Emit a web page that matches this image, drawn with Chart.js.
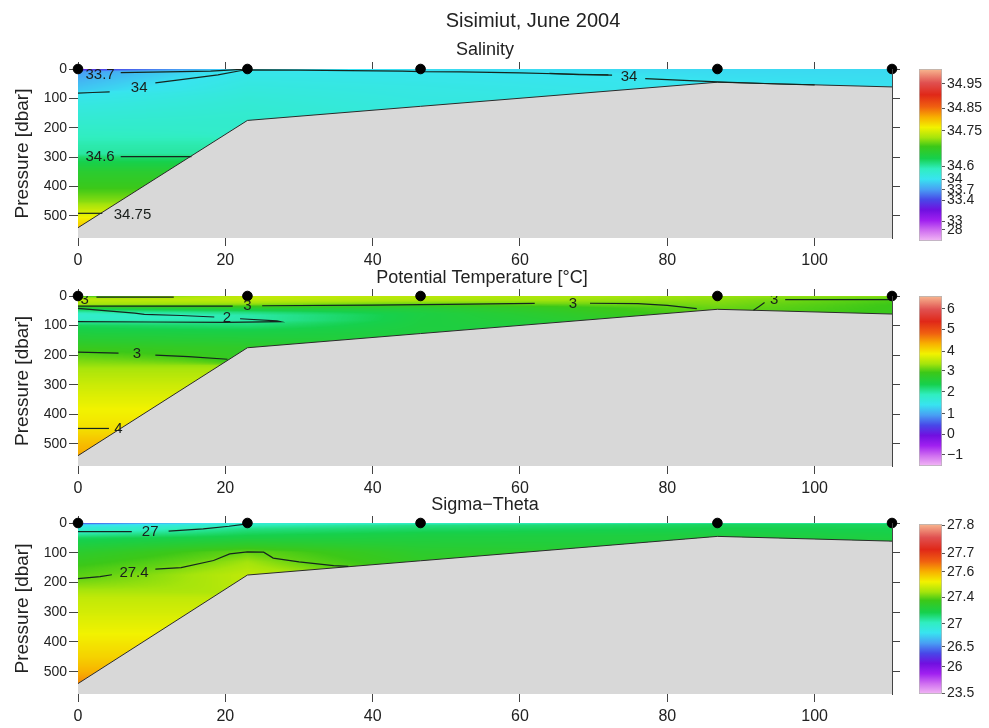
<!DOCTYPE html>
<html>
<head>
<meta charset="utf-8">
<title>Sisimiut, June 2004</title>
<script src="https://cdn.jsdelivr.net/npm/chart.js@4.4.1/dist/chart.umd.min.js"></script>
<style>
  html, body { margin: 0; padding: 0; background: #fff; }
  body { width: 989px; height: 728px; position: relative; overflow: hidden; }
  canvas { position: absolute; }
</style>
</head>
<body>
<canvas id="salSection"></canvas>
<canvas id="tempSection"></canvas>
<canvas id="sigSection"></canvas>
<canvas id="salBar"></canvas>
<canvas id="tempBar"></canvas>
<canvas id="sigBar"></canvas>
<script>
const FONT = '"Liberation Sans", Arial, Helvetica, sans-serif';
const INK = '#222';

// ---- Section geometry -------------------------------------------------------
// CTD stations along the section (km) and water depth at each station (dbar)
const STATION_KM  = [0, 23, 46.5, 86.8, 110.5];
const BOTTOM_DBAR = [540, 175, 127, 45, 61];
const DISTANCE_TICKS = [0, 20, 40, 60, 80, 100];
const PRESSURE_TICKS = [0, 100, 200, 300, 400, 500];
const X_MAX = 110.5;
const P_MAX = 575;

// ---- Profiles: [pressure dbar, value] for each station ----------------------
const SALINITY = [
  [[0,33.2],[4,33.4],[8,33.68],[15,33.72],[40,33.8],[70,33.88],[83,34.0],[120,34.15],[200,34.38],[260,34.55],[300,34.62],[350,34.66],[400,34.68],[450,34.71],[490,34.75],[540,34.8]],
  [[0,33.97],[5,34.05],[50,34.15],[100,34.25],[175,34.35]],
  [[0,33.96],[10,33.99],[15,34.04],[60,34.12],[127,34.18]],
  [[0,33.95],[44,34.0]],
  [[0,33.95],[61,33.99]]
];
const TEMPERATURE = [
  [[0,2.95],[3,3.0],[6,3.35],[15,3.5],[28,3.35],[35,3.0],[40,2.6],[48,2.2],[55,1.95],[65,1.75],[78,1.8],[87,2.0],[100,2.3],[150,2.65],[193,3.0],[250,3.4],[300,3.6],[380,3.85],[448,4.0],[500,4.25],[540,4.4]],
  [[0,3.55],[15,3.5],[28,3.25],[33,3.0],[42,2.6],[55,2.15],[65,1.95],[82,1.95],[92,2.1],[120,2.4],[175,2.75]],
  [[0,3.5],[15,3.4],[25,3.15],[30,2.95],[40,2.6],[60,2.45],[127,2.5]],
  [[0,3.3],[44,3.1]],
  [[0,3.25],[12,3.0],[30,2.92],[61,2.88]]
];
const SIGMA_THETA = [
  [[0,26.0],[2,26.5],[6,26.75],[15,26.9],[29,27.0],[50,27.15],[100,27.28],[150,27.36],[187,27.4],[250,27.47],[350,27.51],[450,27.56],[540,27.63]],
  [[0,26.9],[4,27.0],[20,27.1],[50,27.2],[80,27.32],[97,27.4],[130,27.44],[175,27.47]],
  [[0,27.0],[8,27.1],[40,27.2],[100,27.28],[127,27.3]],
  [[0,27.05],[5,27.15],[44,27.22]],
  [[0,27.05],[5,27.15],[61,27.22]]
];

// ---- Contour lines: segments of [km, dbar]; labels: [text, km, dbar] ------
const SAL_CONTOURS = [
  [[0,82],[2,80],[4.3,78]],
  [[10.5,47],[14,36],[19,20],[22,6],[23,3],[30,4],[44,7],[46.5,9],[52,10],[60,13],[66,17],[72,20]],
  [[64,15],[68,19],[72.5,21]],
  [[77,33],[80,36],[86.8,44],[95,51],[100,54]],
  [[5.8,12],[12,10],[18,7],[21,3],[22.5,0.5]],
  [[5.8,298],[15.4,298]],
  [[0,491],[3.3,491]]
];
const SAL_LABELS = [['33.7',3,20],['34',8.3,63],['34',74.8,28],['34.6',3,298],['34.75',7.4,496]];

const TEMP_CONTOURS = [
  [[2.5,4],[13,4]],
  [[0,34],[21,34]],
  [[25,33],[40,31],[50,28],[62,25]],
  [[69.5,24.5],[76,26],[80,32],[84,43]],
  [[91.7,48],[92.5,35],[93.2,22]],
  [[96,12],[110.5,12]],
  [[0,42],[4,50],[7.7,58],[9,62],[14,66],[18.5,71]],
  [[22,77],[27,84],[27.5,87],[20,89],[10,88],[0,87]],
  [[0,190],[5.5,193]],
  [[10.5,200],[15,205],[20.3,214]],
  [[0,448],[4.2,448]]
];
const TEMP_LABELS = [['3',0.9,12],['3',23,34],['3',67.2,25],['3',94.5,13],['2',20.2,75],['3',8,196],['4',5.5,451]];

const SIGMA_CONTOURS = [
  [[0,29],[7.3,29]],
  [[12.3,27],[17,20],[20.5,11],[23,3]],
  [[0,187],[3,180],[4.6,174]],
  [[10.5,155],[14,150],[18.4,126],[20.6,104],[23,97],[25.2,98],[26.5,118],[30,131],[34.7,143],[36.7,146]]
];
const SIGMA_LABELS = [['27',9.8,30],['27.4',7.6,167]];

// ---- Colour bars: tick labels, values and their place along the bar (0..1) --
const SAL_CB_LABELS  = ['28','33','33.4','33.7','34','34.6','34.75','34.85','34.95'];
const SAL_CB_VALUES  = [28, 33, 33.4, 33.7, 34, 34.6, 34.75, 34.85, 34.95];
const SAL_CB_POS     = [0.064, 0.116, 0.238, 0.297, 0.36, 0.436, 0.64, 0.77, 0.913];
const TEMP_CB_LABELS = ['\u22121','0','1','2','3','4','5','6'];
const TEMP_CB_VALUES = [-1, 0, 1, 2, 3, 4, 5, 6];
const TEMP_CB_POS    = [0.065, 0.188, 0.306, 0.437, 0.559, 0.676, 0.804, 0.924];
const SIG_CB_LABELS  = ['23.5','26','26.5','27','27.4','27.6','27.7','27.8'];
const SIG_CB_VALUES  = [23.5, 26, 26.5, 27, 27.4, 27.6, 27.7, 27.8];
const SIG_CB_POS     = [0.004, 0.16, 0.278, 0.412, 0.569, 0.719, 0.827, 0.994];

// Rainbow palette shared by the sections and their colour bars
const CMAP_POS = [0, 0.06, 0.12, 0.18, 0.24, 0.30, 0.36, 0.42, 0.48, 0.55, 0.60, 0.66, 0.72, 0.78, 0.85, 0.92, 1];
const CMAP_HEX = ['#f2b8f4','#d070f0','#a020f0','#7010e0','#4848e8','#48a0f4','#38e4f0','#30eec0','#16d04c',
                  '#3cc818','#a4e40c','#f2f200','#f8b000','#f06010','#e02818','#e05050','#f8b890'];

Chart.defaults.font.family = FONT;
Chart.defaults.color = INK;

// ---- helpers ----------------------------------------------------------------
function interp1(xs, ys, x) {
  const n = xs.length;
  if (x <= xs[0]) return ys[0];
  if (x >= xs[n - 1]) return ys[n - 1];
  let i = 1;
  while (xs[i] < x) i++;
  const t = (x - xs[i - 1]) / (xs[i] - xs[i - 1]);
  return ys[i - 1] + t * (ys[i] - ys[i - 1]);
}
function valueToFrac(v, vals, pos) {
  const n = vals.length;
  let i;
  if (v <= vals[0]) i = 1;
  else if (v >= vals[n - 1]) i = n - 1;
  else { i = 1; while (vals[i] < v) i++; }
  const f = pos[i - 1] + (v - vals[i - 1]) * (pos[i] - pos[i - 1]) / (vals[i] - vals[i - 1]);
  return Math.max(0, Math.min(1, f));
}
const CMAP_RGB = CMAP_HEX.map(h => [parseInt(h.slice(1,3),16), parseInt(h.slice(3,5),16), parseInt(h.slice(5,7),16)]);
const LUT = [];
for (let i = 0; i <= 1023; i++) {
  const f = i / 1023;
  let k = 1;
  while (k < CMAP_POS.length - 1 && CMAP_POS[k] < f) k++;
  const t = (f - CMAP_POS[k - 1]) / (CMAP_POS[k] - CMAP_POS[k - 1]);
  const a = CMAP_RGB[k - 1], b = CMAP_RGB[k];
  LUT.push([0,1,2].map(c => Math.round(a[c] + t * (b[c] - a[c]))));
}
const colourAt = f => LUT[Math.round(f * 1023)];

// A station's influence fades out below its own sea-floor depth
const reach = (p, bottom) => p <= bottom ? 1 : Math.max(0, 1 - (p - bottom) / 60);

// Paints the gridded field between the stations, above the sea floor
function fieldPlugin(profiles, cbVals, cbPos) {
  const prof = profiles.map(pr => ({ p: pr.map(d => d[0]), v: pr.map(d => d[1]) }));
  return {
    id: 'sectionField',
    beforeDatasetsDraw(chart) {
      const { ctx, chartArea: a, scales } = chart;
      const xs = scales.x, ys = scales.y;
      const w = Math.round(a.right - a.left), h = Math.round(a.bottom - a.top);
      const off = document.createElement('canvas');
      off.width = w; off.height = h;
      const octx = off.getContext('2d');
      const img = octx.createImageData(w, h);
      const d = img.data;
      const rows = [];
      for (let j = 0; j < h; j++) rows.push(ys.getValueForPixel(a.top + j + 0.5));
      for (let i = 0; i < w; i++) {
        const km = xs.getValueForPixel(a.left + i + 0.5);
        const floor = interp1(STATION_KM, BOTTOM_DBAR, km);
        let k = 0;
        while (k < STATION_KM.length - 2 && km > STATION_KM[k + 1]) k++;
        const t = Math.max(0, Math.min(1, (km - STATION_KM[k]) / (STATION_KM[k + 1] - STATION_KM[k])));
        const A = prof[k], B = prof[k + 1];
        const bA = BOTTOM_DBAR[k], bB = BOTTOM_DBAR[k + 1];
        for (let j = 0; j < h; j++) {
          const p = rows[j];
          if (p > floor + 1.5) break;
          let wA = (1 - t) * reach(p, bA), wB = t * reach(p, bB);
          if (wA + wB === 0) { if (bA >= bB) wA = 1; else wB = 1; }
          const v = (wA * interp1(A.p, A.v, p) + wB * interp1(B.p, B.v, p)) / (wA + wB);
          const c = colourAt(valueToFrac(v, cbVals, cbPos));
          const o = (j * w + i) * 4;
          d[o] = c[0]; d[o + 1] = c[1]; d[o + 2] = c[2]; d[o + 3] = 255;
        }
      }
      octx.putImageData(img, 0, 0);
      ctx.drawImage(off, a.left, a.top);
    }
  };
}

// Contour labels placed in data coordinates
function labelPlugin(labels) {
  return {
    id: 'contourLabels',
    afterDatasetsDraw(chart) {
      const { ctx, chartArea: a, scales } = chart;
      ctx.save();
      ctx.beginPath();
      ctx.rect(a.left, a.top, a.right - a.left, a.bottom - a.top);
      ctx.clip();
      ctx.font = '15px ' + FONT;
      ctx.fillStyle = '#1a1f1c';
      ctx.textAlign = 'center';
      ctx.textBaseline = 'middle';
      labels.forEach(([txt, km, p]) => {
        ctx.fillText(txt, scales.x.getPixelForValue(km), scales.y.getPixelForValue(p));
      });
      ctx.restore();
    }
  };
}

// Panel headings
function headingPlugin(items, top) {
  return {
    id: 'headings',
    afterDraw(chart) {
      const ctx = chart.ctx;
      ctx.save();
      ctx.fillStyle = INK;
      ctx.textAlign = 'center';
      ctx.textBaseline = 'middle';
      items.forEach(it => {
        ctx.font = it.size + 'px ' + FONT;
        ctx.fillText(it.text, it.x, it.y - top);
      });
      ctx.restore();
    }
  };
}

const setTicks = list => s => { s.ticks = list.map(v => ({ value: v })); };

function sectionChart(id, cfg) {
  const canvas = document.getElementById(id);
  canvas.width = 970; canvas.height = cfg.height;
  canvas.style.left = '0px'; canvas.style.top = cfg.top + 'px';
  const areaBottom = cfg.areaBottom - cfg.top;
  const xAxisH = cfg.height - areaBottom;

  const datasets = [];
  datasets.push({
    type: 'line',
    data: STATION_KM.map((k, i) => ({ x: k, y: BOTTOM_DBAR[i] })),
    fill: { value: P_MAX },
    backgroundColor: '#d8d8d8',
    borderColor: '#2b2b2b',
    borderWidth: 1,
    pointRadius: 0,
    tension: 0,
    order: 3
  });
  cfg.contours.forEach(seg => datasets.push({
    type: 'line',
    data: seg.map(([k, p]) => ({ x: k, y: p })),
    borderColor: '#15261f',
    borderWidth: 1.2,
    pointRadius: 0,
    fill: false,
    tension: 0,
    order: 2
  }));
  datasets.push({
    type: 'scatter',
    data: STATION_KM.map(k => ({ x: k, y: 0 })),
    pointRadius: 4.8,
    pointBackgroundColor: '#000',
    pointBorderColor: '#000',
    clip: false,
    order: 1
  });

  const tickGrid = len => ({ drawOnChartArea: false, drawTicks: true, tickLength: len, color: '#444', lineWidth: 1 });

  return new Chart(canvas, {
    type: 'scatter',
    data: { datasets },
    options: {
      responsive: false,
      animation: false,
      events: [],
      layout: { padding: { left: 0, right: 970 - 892 - 10, top: cfg.areaTop - cfg.top - 7, bottom: 0 } },
      plugins: { legend: { display: false }, tooltip: { enabled: false } },
      scales: {
        x: {
          type: 'linear', position: 'bottom', min: 0, max: X_MAX,
          afterBuildTicks: setTicks(DISTANCE_TICKS),
          afterFit: s => { s.height = xAxisH; },
          ticks: { font: { size: 16 }, color: INK, padding: 5, maxRotation: 0, autoSkip: false },
          grid: tickGrid(8),
          border: { display: false }
        },
        x2: {
          type: 'linear', position: 'top', min: 0, max: X_MAX,
          afterBuildTicks: setTicks(DISTANCE_TICKS),
          afterFit: s => { s.height = 7; },
          ticks: { display: false },
          grid: tickGrid(7),
          border: { display: false }
        },
        y: {
          type: 'linear', position: 'left', reverse: true, min: 0, max: P_MAX,
          afterBuildTicks: setTicks(PRESSURE_TICKS),
          afterFit: s => { s.width = 78; },
          ticks: { font: { size: 14 }, color: INK, padding: 2, autoSkip: false },
          grid: tickGrid(9),
          border: { display: true, color: '#444' },
          title: { display: true, text: 'Pressure [dbar]', font: { size: 19 }, color: INK, padding: { top: 11, bottom: 0 } }
        },
        y2: {
          type: 'linear', position: 'right', reverse: true, min: 0, max: P_MAX,
          afterBuildTicks: setTicks(PRESSURE_TICKS),
          afterFit: s => { s.width = 10; },
          ticks: { display: false },
          grid: tickGrid(8),
          border: { display: true, color: '#444', z: 1 }
        }
      }
    },
    plugins: [fieldPlugin(cfg.profiles, cfg.cbVals, cfg.cbPos), labelPlugin(cfg.labels), headingPlugin(cfg.headings, cfg.top)]
  });
}

function colourBar(id, cfg) {
  const canvas = document.getElementById(id);
  const top = cfg.barTop - 12, height = cfg.barBottom - cfg.barTop + 24;
  canvas.width = 84; canvas.height = height;
  canvas.style.left = '905px'; canvas.style.top = top + 'px';
  return new Chart(canvas, {
    type: 'bar',
    data: {
      labels: [''],
      datasets: [{
        data: [[0, 1]],
        backgroundColor: c => {
          const a = c.chart.chartArea;
          if (!a) return '#ccc';
          const g = c.chart.ctx.createLinearGradient(0, a.bottom, 0, a.top);
          CMAP_POS.forEach((p, i) => g.addColorStop(p, CMAP_HEX[i]));
          return g;
        },
        borderColor: '#b5b5b5',
        borderWidth: 1,
        borderSkipped: false,
        barPercentage: 1,
        categoryPercentage: 1
      }]
    },
    options: {
      responsive: false,
      animation: false,
      events: [],
      layout: { padding: { left: 14, right: 0, top: 12, bottom: 12 } },
      plugins: { legend: { display: false }, tooltip: { enabled: false } },
      scales: {
        x: { display: false },
        y: {
          position: 'right', min: 0, max: 1,
          afterBuildTicks: setTicks(cfg.pos),
          afterFit: s => { s.width = 47; },
          ticks: { autoSkip: false, font: { size: 14 }, color: INK, padding: 2, callback: (v, i) => cfg.labels[i] },
          grid: { drawOnChartArea: false, drawTicks: true, tickLength: 3, color: '#555' },
          border: { display: false }
        }
      }
    }
  });
}

// ---- Build the three sections ------------------------------------------------
sectionChart('salSection', {
  top: 0, height: 275, areaTop: 69, areaBottom: 238,
  profiles: SALINITY, cbVals: SAL_CB_VALUES, cbPos: SAL_CB_POS,
  contours: SAL_CONTOURS, labels: SAL_LABELS,
  headings: [{ text: 'Sisimiut, June 2004', x: 533, y: 21, size: 20 }, { text: 'Salinity', x: 485, y: 50, size: 18 }]
});
sectionChart('tempSection', {
  top: 268, height: 235, areaTop: 296, areaBottom: 466,
  profiles: TEMPERATURE, cbVals: TEMP_CB_VALUES, cbPos: TEMP_CB_POS,
  contours: TEMP_CONTOURS, labels: TEMP_LABELS,
  headings: [{ text: 'Potential Temperature [\u00B0C]', x: 482, y: 278, size: 18 }]
});
sectionChart('sigSection', {
  top: 495, height: 233, areaTop: 523, areaBottom: 694,
  profiles: SIGMA_THETA, cbVals: SIG_CB_VALUES, cbPos: SIG_CB_POS,
  contours: SIGMA_CONTOURS, labels: SIGMA_LABELS,
  headings: [{ text: 'Sigma\u2212Theta', x: 485, y: 505, size: 18 }]
});

colourBar('salBar',  { barTop: 69,  barBottom: 241, pos: SAL_CB_POS,  labels: SAL_CB_LABELS });
colourBar('tempBar', { barTop: 296, barBottom: 466, pos: TEMP_CB_POS, labels: TEMP_CB_LABELS });
colourBar('sigBar',  { barTop: 524, barBottom: 694, pos: SIG_CB_POS,  labels: SIG_CB_LABELS });
</script>
</body>
</html>
